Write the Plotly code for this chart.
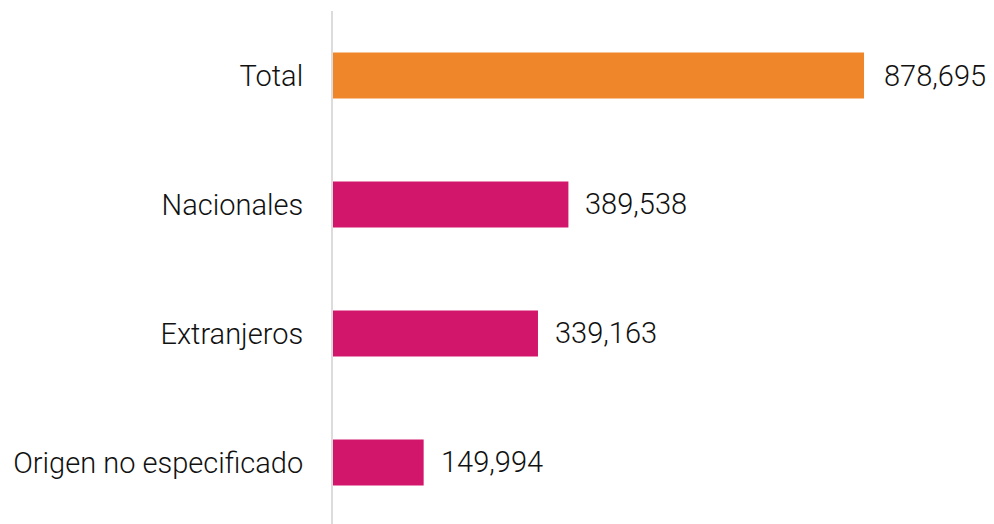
import plotly.graph_objects as go

categories = ["Total", "Nacionales", "Extranjeros", "Origen no especificado"]
values = [878695, 389538, 339163, 149994]
labels = ["878,695", "389,538", "339,163", "149,994"]
colors = ["#EF862A", "#D1166B", "#D1166B", "#D1166B"]

fig = go.Figure()
fig.add_trace(go.Bar(
    y=categories, x=values, orientation="h",
    marker=dict(color=colors, line=dict(width=0)),
    width=0.357, hoverinfo="skip",
))
for i, (c, v, t) in enumerate(zip(categories, values, labels)):
    fig.add_annotation(x=v, y=c, text=t, showarrow=False, xanchor="left",
                       xshift=18 if i == 0 else 15,
                       font=dict(family="Roboto", size=29, color="#111111", weight=300))

fig.update_layout(
    width=994, height=524,
    margin=dict(l=325, r=0, t=3, b=0),
    plot_bgcolor="white", paper_bgcolor="white",
    showlegend=False,
    font=dict(family="Roboto", size=29, color="#111111", weight=300),
    xaxis=dict(range=[0, 1107000], visible=False, fixedrange=True),
    yaxis=dict(categoryorder="array", categoryarray=categories,
               range=[3.539, -0.5], showline=True, linecolor="#DCDCDC", linewidth=2,
               ticks="", showgrid=False, ticklabelstandoff=22,
               tickfont=dict(family="Roboto", size=29, color="#111111", weight=300)),
)
fig.write_html("out.html")
